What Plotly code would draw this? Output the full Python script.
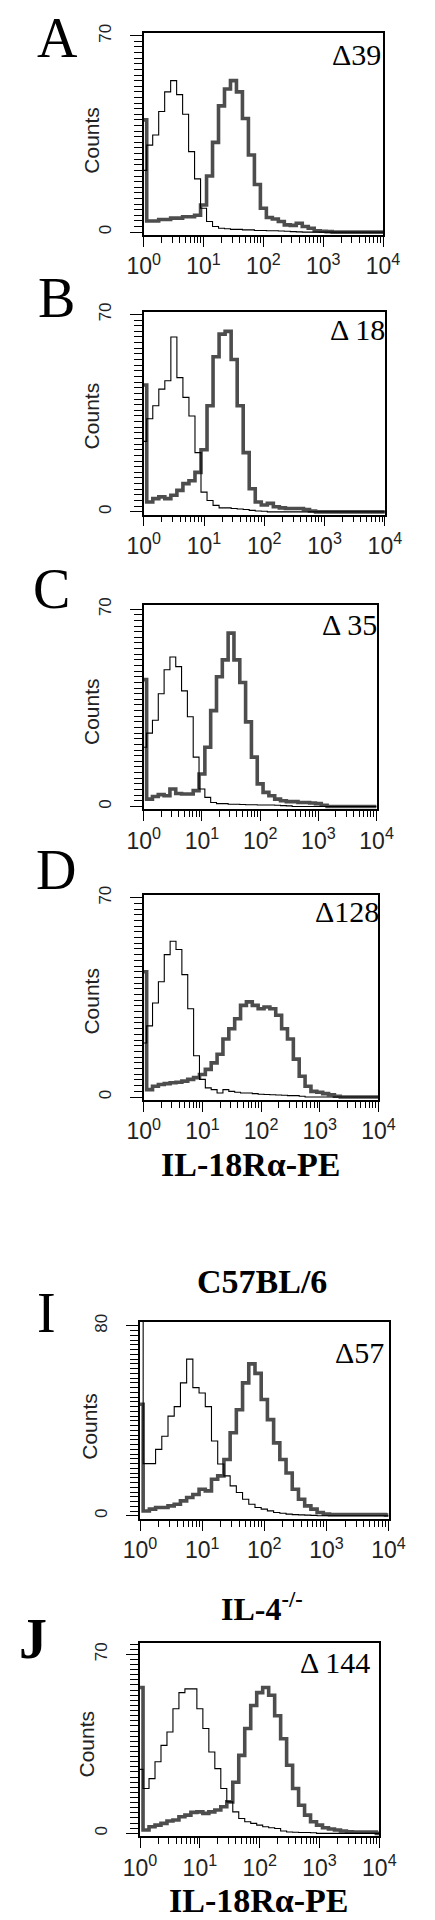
import plotly.graph_objects as go

# log10 of fluorescence intensity (channel positions)
log_intensity = [0.0, 0.1, 0.2, 0.3, 0.4, 0.5, 0.6, 0.7, 0.8, 0.9,
                 1.0, 1.1, 1.2, 1.3, 1.4, 1.5, 1.6, 1.7, 1.8, 1.9,
                 2.0, 2.1, 2.2, 2.3, 2.4, 2.5, 2.6, 2.7, 2.8, 2.9,
                 3.0, 3.1, 3.2, 3.3, 3.4, 3.5, 3.6, 3.7, 3.8, 3.9, 4.0]

# counts, thin line = isotype control, thick grey = IL-18Ra-PE
a_isotype = [22, 31, 34.6, 43, 50, 54, 49, 42, 28.7, 19,
             8.5, 3.8, 2, 1.4, 1.2, 1, 1, 0.8, 0.8, 0.6,
             0.6, 0.5, 0.5, 0.4, 0.3, 0.2, 0.1, 0, 0, 0,
             0, 0, 0, 0, 0, 0, 0, 0, 0, 0, 0]
a_il18ra = [40, 4, 4, 4.5, 4.5, 5, 5, 5.5, 5.5, 6,
            9.7, 20, 32, 45, 51, 54, 50, 40.5, 27.5, 17,
            8.5, 5.2, 4.7, 3.8, 2.6, 2.4, 3.2, 2, 1.4, 0.5,
            0.3, 0.2, 0, 0, 0, 0, 0, 0, 0, 0, 0]

b_isotype = [25, 33, 37.6, 43.5, 46.5, 62, 47.6, 40.6, 34, 21,
             7, 4, 2.3, 1.4, 1.4, 1.2, 1, 0.8, 0.5, 0.3,
             0.2, 0, 0, 0, 0, 0, 0, 0, 0, 0,
             0, 0, 0, 0, 0, 0, 0, 0, 0, 0, 0]
b_il18ra = [45, 3.5, 4.7, 5.3, 4.7, 5.9, 7.6, 10, 11, 14,
            22, 37.6, 55, 63, 64, 54, 37.6, 21, 8.2, 3.5,
            2.4, 3, 1.8, 1.4, 1.2, 1.2, 1.2, 0.8, 0.3, 0,
            0, 0, 0, 0, 0, 0, 0, 0, 0, 0, 0]

c_isotype = [21, 26, 30.6, 40, 48.5, 53, 49.6, 41, 31.8, 17.5,
             6.2, 3.2, 1.4, 1, 1, 0.8, 0.8, 0.7, 0.6, 0.6,
             0.5, 0.5, 0.5, 0.4, 0.3, 0.2, 0, 0, 0, 0,
             0, 0, 0, 0, 0, 0, 0, 0, 0, 0, 0]
c_il18ra = [45, 2.6, 3.5, 4.2, 3.8, 6.2, 4.6, 4.4, 4.4, 5.6,
            11.5, 21, 34, 46, 52, 61.5, 52, 44, 30, 17.5,
            8, 5, 3.8, 2.6, 2, 1.7, 1.7, 1.4, 1.4, 1.2,
            1, 0.4, 0, 0, 0, 0, 0, 0, 0, 0, 0]

d_isotype = [19, 25, 33, 40.5, 50, 54.7, 51.8, 43, 31, 14.5,
             6.2, 3.2, 2.6, 1.4, 2.6, 2, 1.7, 1.4, 1.4, 1.2,
             1, 0.9, 0.8, 0.7, 0.6, 0.5, 0.5, 0.3, 0, 0,
             0, 0, 0, 0, 0, 0, 0, 0, 0, 0, 0]
d_il18ra = [44, 2.6, 3.8, 4.4, 4.7, 5, 5.2, 5.6, 6.2, 6.8,
            7.9, 9.7, 12, 15, 20.4, 24, 27.5, 32.2, 33.4, 32.2,
            31, 31.6, 31, 28.7, 24, 20.4, 13.3, 7.3, 3.8, 2,
            1.7, 1.2, 0.8, 0.3, 0, 0, 0, 0, 0, 0, 0]

i_isotype = [90, 22, 22, 28, 33.5, 42, 46, 56, 66, 54,
             51.7, 46, 31.5, 21.8, 16.8, 12.6, 9.8, 7, 4.9, 3.5,
             2.8, 2.1, 1.4, 1.1, 0.7, 0.5, 0.4, 0.3, 0.2, 0,
             0, 0, 0, 0, 0, 0, 0, 0, 0, 0, 0]
i_il18ra = [47, 2, 2.8, 3.5, 3.5, 4.2, 4.9, 6.3, 7.7, 9,
            11.2, 10.5, 15.4, 16.8, 23.7, 35, 44.7, 56, 64, 60,
            49, 40.5, 30.7, 23.7, 18, 11.2, 7, 4.2, 2.8, 1.4,
            0.7, 0.5, 0.5, 0.5, 0.5, 0.5, 0.5, 0.5, 0.5, 0.5, 0.3]

j_isotype = [25, 17.5, 21.4, 28, 34.4, 39.6, 48.7, 55, 56.5, 56.5,
             48.7, 41, 31.8, 25.3, 17.5, 12.3, 8.4, 5.8, 4.5, 3.9,
             3.2, 2.6, 2.2, 1.9, 0.9, 0.5, 0.4, 0.3, 0.3, 0.2,
             0, 0, 0, 0, 0, 0, 0, 0, 0, 0, 0]
j_il18ra = [57, 1.3, 2.6, 3.2, 3.9, 4.8, 5.2, 6.5, 7.1, 8.2,
            8.4, 7.8, 8.4, 9.1, 10.4, 12.3, 20, 30.5, 41, 50,
            55, 57, 54, 46, 37, 26.6, 17.5, 11, 7.1, 4.5,
            3.2, 2.2, 1.7, 1.3, 0.9, 0.6, 0.5, 0.5, 0.5, 0.5, 0]

panel_letters = ["A", "B", "C", "D", "I", "J"]
delta_labels = ["Δ39", "Δ 18", "Δ 35", "Δ128", "Δ57", "Δ 144"]
y_top_ticks = [70, 70, 70, 70, 80, 70]
x_tickvals = [1, 10, 100, 1000, 10000]
x_ticktext = ["10<sup>0</sup>", "10<sup>1</sup>", "10<sup>2</sup>",
              "10<sup>3</sup>", "10<sup>4</sup>"]

isotype = [a_isotype, b_isotype, c_isotype, d_isotype, i_isotype, j_isotype]
il18ra = [a_il18ra, b_il18ra, c_il18ra, d_il18ra, i_il18ra, j_il18ra]

# the page body has an 8px margin, so the figure is drawn 8px in from the corner
OFF = 8
W, H = 435 - OFF, 1920 - OFF
SERIF = "Liberation Serif, Times New Roman, serif"
SANS = "Liberation Sans, Arial, sans-serif"

# box in page pixels: left, right, top, bottom, y range
boxes = [
    (137, 397, 24, 227, -1, 71),
    (137, 399, 304, 508, -1, 71),
    (137, 390, 599, 804, -1, 71.4),
    (137, 392, 890, 1096, -1, 71),
    (133, 403, 1319, 1517, -1.3, 81.7),
    (133, 393, 1642, 1836, -1.2, 74.3),
]
letter_pos = [(43, 29, False), (42, 290, False), (37, 583, False),
              (42, 865, False), (31, 1310, False), (17, 1638, True)]
delta_pos = [(368, 46), (369, 322), (361, 618), (358, 907), (371, 1350), (345, 1661)]
counts_pos = [(80, 132), (80, 409), (80, 706), (80, 997), (78, 1424), (75, 1743)]

xs = [10 ** v for v in log_intensity]

fig = go.Figure()
annotations = []


def px(x, y):
    return (x - OFF) / W, 1 - (y - OFF) / H


for i in range(6):
    xa = "x" if i == 0 else f"x{i + 1}"
    ya = "y" if i == 0 else f"y{i + 1}"
    fig.add_trace(go.Scatter(x=xs, y=il18ra[i], mode="lines", line_shape="hvh",
                             line=dict(color="#4d4d4d", width=3.6),
                             xaxis=xa, yaxis=ya, showlegend=False))
    fig.add_trace(go.Scatter(x=xs, y=isotype[i], mode="lines", line_shape="hvh",
                             line=dict(color="black", width=1.1),
                             xaxis=xa, yaxis=ya, showlegend=False))

    l, r, t, b, y0, y1 = boxes[i]
    xl, yb = px(l, b)
    xr, yt = px(r, t)
    xkey = "xaxis" if i == 0 else f"xaxis{i + 1}"
    ykey = "yaxis" if i == 0 else f"yaxis{i + 1}"
    fig.layout[xkey] = dict(
        type="log", range=[0, 4], domain=[xl, xr], anchor=ya,
        showline=True, mirror=True, linecolor="black", linewidth=1.6,
        ticks="outside", ticklen=10, tickwidth=1.3, tickcolor="black",
        tickvals=x_tickvals, ticktext=x_ticktext,
        tickfont=dict(family=SANS, size=23, color="#222"),
        ticklabelstandoff=0,
        minor=dict(ticks="outside", ticklen=6, tickmode="linear", dtick="D1",
                   tickcolor="black", tickwidth=1.2, showgrid=False),
        showgrid=False, zeroline=False, fixedrange=True)
    fig.layout[ykey] = dict(
        range=[y0, y1], domain=[yb, yt], anchor=xa,
        showline=True, mirror=True, linecolor="black", linewidth=1.6,
        ticks="outside", ticklen=12, tickwidth=1.3, tickcolor="black",
        tickvals=[0, y_top_ticks[i]], tickangle=-90,
        tickfont=dict(family=SANS, size=17, color="#222"),
        ticklabelstandoff=12,
        minor=dict(ticks="outside", ticklen=8, dtick=2, tick0=0,
                   tickcolor="black", tickwidth=1, showgrid=False),
        showgrid=False, zeroline=False, fixedrange=True)

    lx, ly, bold = letter_pos[i]
    x, y = px(lx, ly)
    txt = f"<b>{panel_letters[i]}</b>" if bold else panel_letters[i]
    annotations.append(dict(text=txt, x=x, y=y, xref="paper", yref="paper",
                            showarrow=False, xanchor="center", yanchor="middle",
                            font=dict(family=SERIF, size=56, color="black")))
    x, y = px(*delta_pos[i])
    annotations.append(dict(text=delta_labels[i], x=x, y=y, xref="paper", yref="paper",
                            showarrow=False, xanchor="center", yanchor="middle",
                            font=dict(family=SERIF, size=30, color="black")))
    x, y = px(*counts_pos[i])
    annotations.append(dict(text="Counts", x=x, y=y, xref="paper", yref="paper",
                            showarrow=False, xanchor="center", yanchor="middle",
                            textangle=-90,
                            font=dict(family=SANS, size=21, color="#222")))

for text, cx, cy, size in [("IL-18Rα-PE", 254, 1161, 34),
                           ("C57BL/6", 265, 1278, 34),
                           ("IL-4<sup>-/-</sup>", 265, 1606, 32),
                           ("IL-18Rα-PE", 262, 1900, 34)]:
    x, y = px(cx, cy)
    annotations.append(dict(text=f"<b>{text}</b>", x=x, y=y, xref="paper", yref="paper",
                            showarrow=False, xanchor="center", yanchor="middle",
                            font=dict(family=SERIF, size=size, color="black")))

fig.update_layout(
    width=W, height=H, autosize=False,
    margin=dict(l=0, r=0, t=0, b=0),
    paper_bgcolor="white", plot_bgcolor="white",
    annotations=annotations,
)

fig.write_html("out.html")
